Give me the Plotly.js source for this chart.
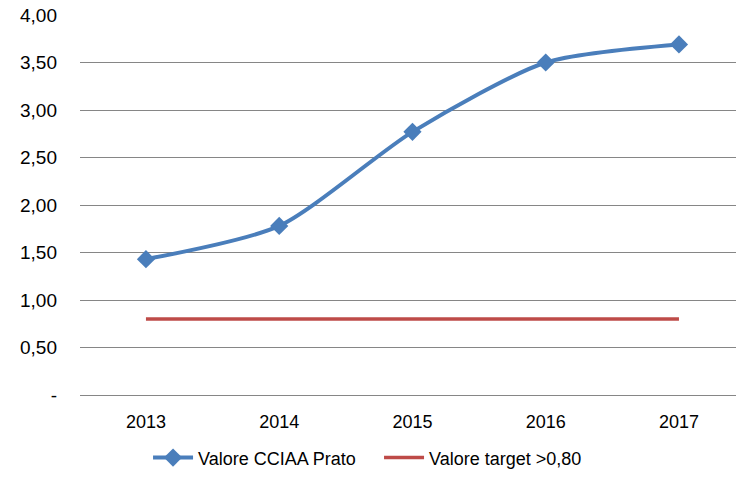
<!DOCTYPE html>
<html>
<head>
<meta charset="utf-8">
<script src="https://cdn.plot.ly/plotly-3.0.1.min.js"></script>
<style>html,body{margin:0;padding:0;background:#fff;}#chart{width:736px;height:480px;}</style>
</head>
<body>
<div id="chart"></div>
<script>
var years = ['2013', '2014', '2015', '2016', '2017'];
var valoreCCIAA = [1.43, 1.78, 2.77, 3.50, 3.69];
var valoreTarget = [0.80, 0.80, 0.80, 0.80, 0.80];
var yTickVals = [0, 0.5, 1, 1.5, 2, 2.5, 3, 3.5, 4];
var yTickText = ['-', '0,50', '1,00', '1,50', '2,00', '2,50', '3,00', '3,50', '4,00'];
var seriesNames = ['Valore CCIAA Prato', 'Valore target >0,80'];

var font = 'Liberation Sans, Arial, sans-serif';
var traces = [
  {
    x: years, y: valoreCCIAA, name: seriesNames[0], type: 'scatter', mode: 'lines+markers',
    line: {color: '#4a7ebb', width: 4, shape: 'spline', smoothing: 0.7},
    marker: {symbol: 'diamond', size: 14, color: '#4a7ebb'}
  },
  {
    x: years, y: valoreTarget, name: seriesNames[1], type: 'scatter', mode: 'lines',
    line: {color: '#be4b48', width: 3.5}
  }
];
var layout = {
  width: 736, height: 480,
  margin: {l: 80, r: 0, t: 15, b: 85},
  paper_bgcolor: '#ffffff', plot_bgcolor: '#ffffff',
  font: {family: font, color: '#000000', size: 18},
  showlegend: true,
  legend: {orientation: 'h', xref: 'container', yref: 'container', x: 0.515, xanchor: 'center', y: 0.046, yanchor: 'middle', font: {size: 18, family: font}, itemwidth: 40, entrywidth: 176, entrywidthmode: 'pixels', traceorder: 'normal'},
  xaxis: {type: 'category', range: [-0.495, 4.428], showgrid: false, zeroline: false, showline: false, ticks: '', ticklabelstandoff: 14, tickfont: {size: 18, family: font}},
  yaxis: {range: [0, 4], tickvals: yTickVals, ticktext: yTickText, showgrid: true, gridcolor: '#868686', gridwidth: 1, zeroline: true, zerolinecolor: '#868686', zerolinewidth: 1, showline: false, ticks: '', ticklabelstandoff: 22, tickfont: {size: 19, family: font}}
};
Plotly.newPlot('chart', traces, layout, {displayModeBar: false, staticPlot: true});
</script>
</body>
</html>
